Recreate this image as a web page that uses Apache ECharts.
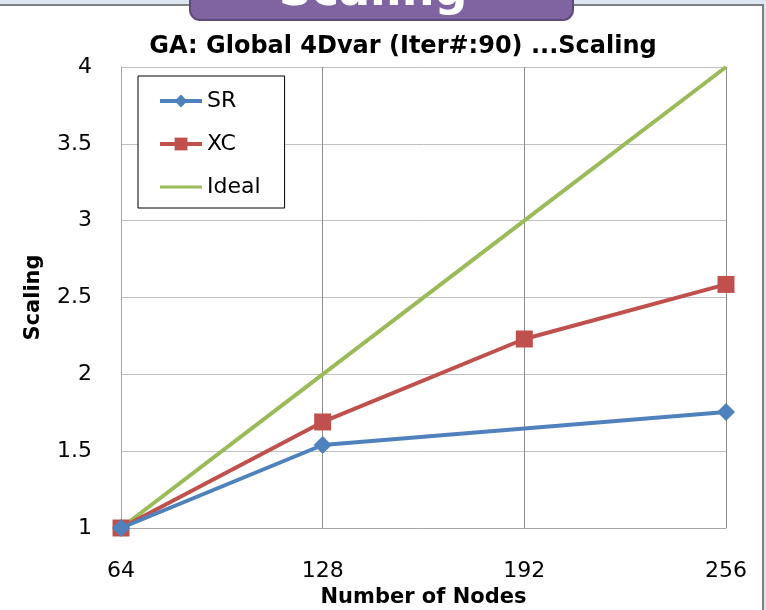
<!DOCTYPE html>
<html><head><meta charset="utf-8">
<script src="https://cdn.jsdelivr.net/npm/echarts@6/dist/echarts.min.js"></script>
<style>html,body{margin:0;padding:0;background:#fff}#c{width:766px;height:610px}</style>
</head><body><div id="c"></div>
<script>
const nodes = [64, 128, 192, 256];
const srNodes = [64, 128, 256];
const srValues = [1, 1.54, 1.755];
const xcValues = [1, 1.69, 2.23, 2.585];
const idealValues = [1, 2, 3, 4];
const seriesNames = ['SR', 'XC', 'Ideal'];

const FONT = 'DejaVu Sans';
const chart = echarts.init(document.getElementById('c'), null, {renderer: 'canvas'});
const pairs = (xs, ys) => xs.map((x, i) => [x, ys[i]]);
chart.setOption({
  animation: false,
  backgroundColor: '#fff',
  title: {
    text: 'GA: Global 4Dvar (Iter#:90) ...Scaling',
    left: 398, top: 30, textAlign: 'center',
    textStyle: {fontFamily: FONT, fontWeight: 'bold', fontSize: 24, color: '#000'}
  },
  grid: {left: 121, right: 40, top: 67, bottom: 82, containLabel: false, outerBoundsMode: 'none'},
  legend: {
    orient: 'vertical', left: 138, top: 76,
    backgroundColor: '#fff', borderColor: '#000', borderWidth: 1,
    padding: [14, 24, 10, 20], itemGap: 21, itemWidth: 42, itemHeight: 16,
    lineStyle: {width: 4},
    textStyle: {fontFamily: FONT, fontSize: 22, color: '#000', lineHeight: 22},
    data: [
      {name: seriesNames[0]},
      {name: seriesNames[1]},
      {name: seriesNames[2], icon: 'path://M0,0 M0,6.5 L42,6.5 L42,9.5 L0,9.5 Z M42,16'}
    ]
  },
  xAxis: {
    type: 'value', min: 64, max: 256, interval: 64,
    name: 'Number of Nodes', nameLocation: 'middle', nameGap: 56,
    nameTextStyle: {fontFamily: FONT, fontWeight: 'bold', fontSize: 21, color: '#000'},
    axisLine: {show: true, lineStyle: {color: '#a6a6a6', width: 1}},
    axisTick: {show: false},
    axisLabel: {fontFamily: FONT, fontSize: 22, color: '#000', margin: 32},
    splitLine: {show: true, lineStyle: {color: '#8c8c8c', width: 1}}
  },
  yAxis: {
    type: 'value', min: 1, max: 4, interval: 0.5,
    name: 'Scaling', nameLocation: 'middle', nameGap: 77,
    nameTextStyle: {fontFamily: FONT, fontWeight: 'bold', fontSize: 21, color: '#000'},
    axisLine: {show: true, lineStyle: {color: '#a6a6a6', width: 1}},
    axisTick: {show: false},
    axisLabel: {fontFamily: FONT, fontSize: 22, color: '#000', margin: 29,
      formatter: v => String(v)},
    splitLine: {show: true, lineStyle: {color: '#bfbfbf', width: 1}}
  },
  series: [
    {name: seriesNames[2], type: 'line', data: pairs(nodes, idealValues), symbol: 'none',
      lineStyle: {color: '#9BBB59', width: 4}, itemStyle: {color: '#9BBB59'}, z: 2},
    {name: seriesNames[1], type: 'line', data: pairs(nodes, xcValues), symbol: 'rect', symbolSize: 17,
      lineStyle: {color: '#C0504D', width: 4}, itemStyle: {color: '#C0504D'}, z: 3},
    {name: seriesNames[0], type: 'line', data: pairs(srNodes, srValues), symbol: 'diamond', symbolSize: [18, 18],
      lineStyle: {color: '#4F81BD', width: 4}, itemStyle: {color: '#4F81BD'}, z: 4}
  ],
  graphic: [
    {type: 'rect', shape: {x: 0, y: 0, width: 766, height: 4}, style: {fill: '#DCE6F2'}, z: 100},
    {type: 'rect', shape: {x: 0, y: 4, width: 764, height: 2}, style: {fill: '#7f7f7f'}, z: 100},
    {type: 'rect', shape: {x: 762, y: 4, width: 2, height: 606}, style: {fill: '#7f7f7f'}, z: 100},
    {type: 'rect', shape: {x: 764, y: 0, width: 2, height: 610}, style: {fill: '#DCE6F2'}, z: 100},
    {type: 'rect', shape: {x: 190, y: -20, width: 383, height: 40, r: 10},
      style: {fill: '#8064A2', stroke: '#5F4B7B', lineWidth: 2}, z: 101},
    {type: 'text', x: 373, y: 16, z: 102,
      style: {text: 'Scaling', fill: '#fff', font: 'bold 46px "DejaVu Sans"', textAlign: 'center', textVerticalAlign: 'bottom'}}
  ]
});
</script></body></html>
